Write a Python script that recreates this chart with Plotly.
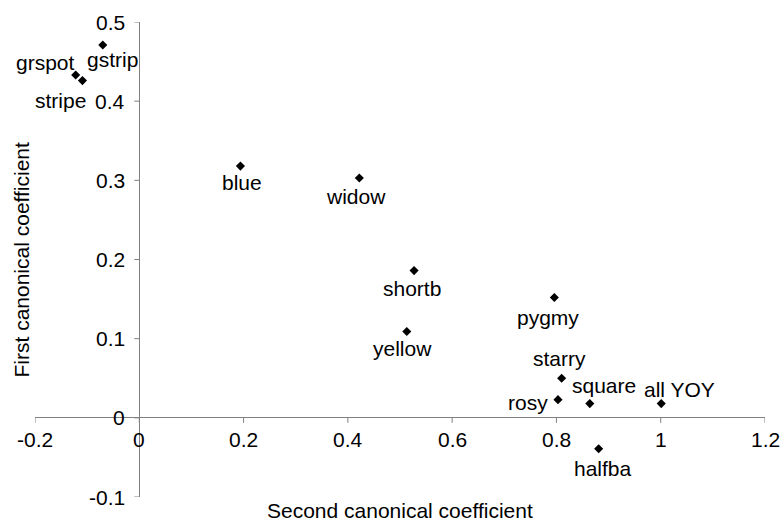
import plotly.graph_objects as go

# ---- data ----
names = ["gstrip", "grspot", "stripe", "blue", "widow", "shortb", "yellow",
         "pygmy", "starry", "rosy", "square", "all YOY", "halfba"]
second_coef = [-0.070, -0.122, -0.109, 0.194, 0.422, 0.527, 0.513,
               0.796, 0.810, 0.803, 0.864, 1.001, 0.881]
first_coef = [0.471, 0.433, 0.426, 0.318, 0.303, 0.186, 0.109,
              0.152, 0.050, 0.023, 0.018, 0.018, -0.039]
x_ticks = [-0.2, 0, 0.2, 0.4, 0.6, 0.8, 1, 1.2]
x_tick_labels = ["-0.2", "0", "0.2", "0.4", "0.6", "0.8", "1", "1.2"]
y_ticks = [-0.1, 0, 0.1, 0.2, 0.3, 0.4, 0.5]
y_tick_labels = ["-0.1", "0", "0.1", "0.2", "0.3", "0.4", "0.5"]
x_title = "Second canonical coefficient"
y_title = "First canonical coefficient"

# ---- style: label offsets in pixels (dx right, dy down) ----
label_offsets = {
    "gstrip": (10, 15), "grspot": (-30, -13), "stripe": (-22, 20),
    "blue": (2, 16), "widow": (-3, 19), "shortb": (-2, 18),
    "yellow": (-4, 17), "pygmy": (-6, 20), "starry": (-2, -20),
    "rosy": (-30, 3), "square": (14, -18), "all YOY": (18, -14),
    "halfba": (4, 20),
}

FONT = "Liberation Sans, Arial, Helvetica, sans-serif"
FS = 21
AXC = "#808080"

fig = go.Figure()
fig.add_trace(go.Scatter(
    x=second_coef, y=first_coef, mode="markers",
    marker=dict(symbol="diamond", size=7, color="black"),
    hoverinfo="skip", showlegend=False, cliponaxis=False,
))

annotations = []
for n, xv, yv in zip(names, second_coef, first_coef):
    dx, dy = label_offsets[n]
    annotations.append(dict(x=xv, y=yv, xref="x", yref="y", text=n,
                            showarrow=False, xshift=dx, yshift=-dy,
                            font=dict(family=FONT, size=FS, color="black")))

shapes = []
for xv, lab in zip(x_ticks, x_tick_labels):
    shapes.append(dict(type="line", xref="x", yref="y", x0=xv, x1=xv,
                       ysizemode="pixel", yanchor=0, y0=0, y1=-5,
                       line=dict(color=AXC, width=1)))
    annotations.append(dict(x=xv, y=0, xref="x", yref="y", text=lab,
                            showarrow=False, yshift=-22,
                            font=dict(family=FONT, size=FS, color="black")))
for yv, lab in zip(y_ticks, y_tick_labels):
    shapes.append(dict(type="line", xref="x", yref="y", y0=yv, y1=yv,
                       xsizemode="pixel", xanchor=0, x0=0, x1=-5,
                       line=dict(color=AXC, width=1)))
    annotations.append(dict(x=0, y=yv, xref="x", yref="y", text=lab,
                            showarrow=False, xanchor="right", xshift=-12,
                            font=dict(family=FONT, size=FS, color="black")))

annotations.append(dict(x=0.5, y=0, xref="paper", yref="paper", text=x_title,
                        showarrow=False, xanchor="center", yanchor="middle",
                        yshift=-13, height=22,
                        font=dict(family=FONT, size=FS, color="black")))
annotations.append(dict(x=0, y=0.5, xref="paper", yref="paper", text=y_title,
                        showarrow=False, textangle=-90, xanchor="center",
                        yanchor="middle", xshift=-14,
                        font=dict(family=FONT, size=FS, color="black")))

fig.update_layout(
    width=780, height=522,
    margin=dict(l=35, r=15, t=22, b=25),
    paper_bgcolor="white", plot_bgcolor="white",
    xaxis=dict(range=[-0.2, 1.2], showgrid=False, showticklabels=False,
               ticks="", zeroline=True, zerolinecolor=AXC, zerolinewidth=1,
               showline=False, fixedrange=True),
    yaxis=dict(range=[-0.1, 0.5], showgrid=False, showticklabels=False,
               ticks="", zeroline=True, zerolinecolor=AXC, zerolinewidth=1,
               showline=False, fixedrange=True),
    annotations=annotations, shapes=shapes,
)

fig.write_html("out.html", config={"displayModeBar": False})
